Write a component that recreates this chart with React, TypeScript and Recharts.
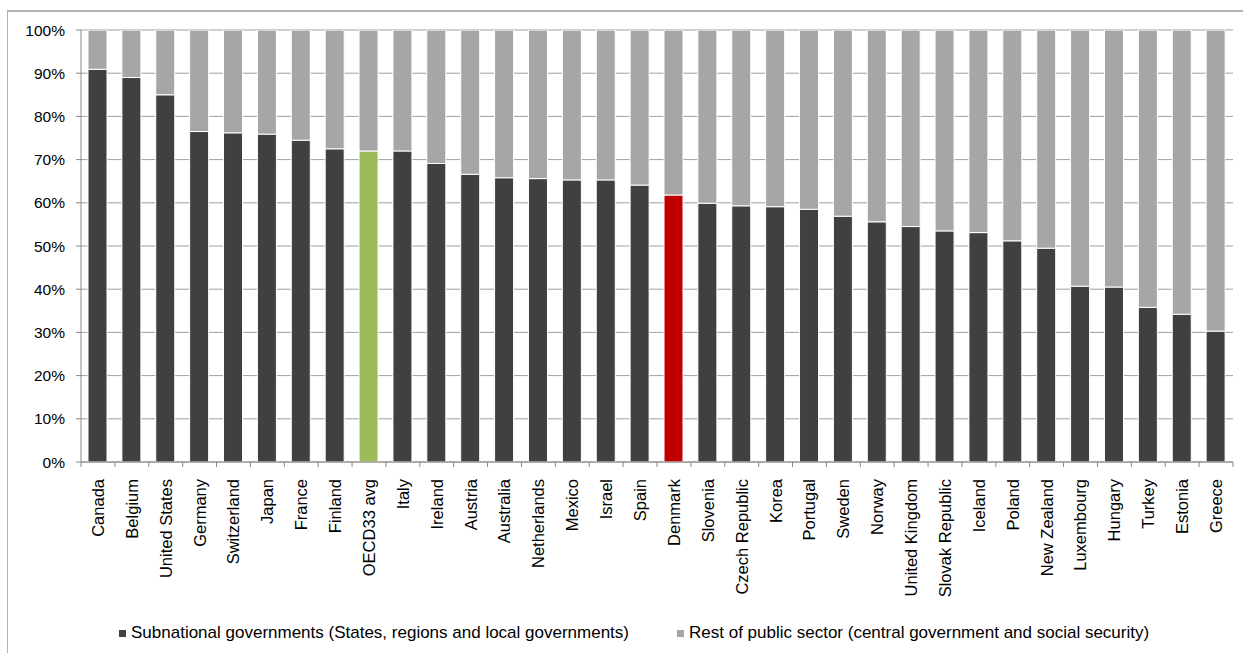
import { Bar, BarChart, CartesianGrid, Cell, Legend, XAxis, YAxis } from "recharts";

const COUNTRIES = [
    "Canada", "Belgium", "United States", "Germany", "Switzerland", "Japan", "France", "Finland",
    "OECD33 avg", "Italy", "Ireland", "Austria", "Australia", "Netherlands", "Mexico", "Israel",
    "Spain", "Denmark", "Slovenia", "Czech Republic", "Korea", "Portugal", "Sweden", "Norway",
    "United Kingdom", "Slovak Republic", "Iceland", "Poland", "New Zealand", "Luxembourg",
    "Hungary", "Turkey", "Estonia", "Greece",
];
// share of public sector (%) held by subnational governments
const SUBNATIONAL = [
    90.9, 89.0, 85.0, 76.5, 76.2, 75.9, 74.5, 72.5,
    72.0, 72.0, 69.1, 66.6, 65.8, 65.6, 65.3, 65.3,
    64.1, 61.8, 59.9, 59.3, 59.1, 58.5, 56.9, 55.6,
    54.5, 53.5, 53.1, 51.2, 49.5, 40.7,
    40.5, 35.8, 34.2, 30.3,
];
const Y_TICKS = [0, 10, 20, 30, 40, 50, 60, 70, 80, 90, 100];
const SERIES_NAMES = [
    "Subnational governments (States, regions and local governments)",
    "Rest of public sector (central government and social security)",
];

const DARK = "#404040";
const LIGHT = "#a6a6a6";
const HIGHLIGHT: Record<string, string> = { "OECD33 avg": "#9bbb59", Denmark: "#c00000" };

const W = 1243;
const H = 653;
const PLOT_LEFT = 81;
const PLOT_RIGHT = 10;
const HALF_BAND = (W - PLOT_LEFT - PLOT_RIGHT) / COUNTRIES.length / 2;
const FONT = "'Liberation Sans', Arial, sans-serif";

const data = COUNTRIES.map((name, i) => ({
    name,
    sub: SUBNATIONAL[i],
    rest: +(100 - SUBNATIONAL[i]).toFixed(1),
}));

function CountryTick(props: any) {
    const { x, y, payload, index } = props;
    const top = y - 12;
    return (
        <g>
            <line x1={x - HALF_BAND} x2={x - HALF_BAND} y1={top - 5} y2={top} stroke="#888" />
            {index === COUNTRIES.length - 1 && (
                <line x1={x + HALF_BAND} x2={x + HALF_BAND} y1={top - 5} y2={top} stroke="#888" />
            )}
            <text
                x={x}
                y={y}
                transform={`rotate(-90, ${x}, ${y})`}
                textAnchor="end"
                dy="0.36em"
                fontSize={16.5}
                fontFamily={FONT}
                fill="#000"
            >
                {payload.value}
            </text>
        </g>
    );
}

function ChartLegend() {
    const items = [
        { label: SERIES_NAMES[0], color: DARK, left: 119 },
        { label: SERIES_NAMES[1], color: LIGHT, left: 677 },
    ];
    return (
        <div style={{ position: "relative", width: W, height: 20 }}>
            {items.map((item) => (
                <div
                    key={item.label}
                    style={{
                        position: "absolute",
                        left: item.left,
                        top: 0,
                        display: "flex",
                        alignItems: "center",
                        height: 20,
                        fontFamily: FONT,
                        fontSize: 17,
                        color: "#000",
                        whiteSpace: "nowrap",
                    }}
                >
                    <span style={{ width: 7, height: 7, background: item.color, marginRight: 5 }} />
                    {item.label}
                </div>
            ))}
        </div>
    );
}

export default function App() {
    return (
        <div style={{ position: "relative", width: W, height: H, overflow: "hidden", background: "#fff" }}>
            <style>{"body{margin:0;overflow:hidden}"}</style>
            <div
                style={{
                    position: "absolute",
                    left: 7,
                    top: 10,
                    width: W,
                    height: H,
                    border: "1px solid #b4b4b4",
                    borderWidth: "2px 0 0 1px",
                }}
            />
            <div style={{ position: "absolute", left: 0, top: 0 }}>
                <BarChart
                    width={W}
                    height={H}
                    data={data}
                    margin={{ top: 30, right: PLOT_RIGHT, left: 0, bottom: 41 }}
                >
                    <CartesianGrid vertical={false} stroke="#a0a0a0" />
                    <XAxis
                        dataKey="name"
                        interval={0}
                        height={150}
                        axisLine={{ stroke: "#888" }}
                        tickLine={false}
                        tickSize={5}
                        tickMargin={12}
                        tick={<CountryTick />}
                    />
                    <YAxis
                        width={PLOT_LEFT}
                        domain={[0, 100]}
                        ticks={Y_TICKS}
                        tickFormatter={(v) => `${v}%`}
                        axisLine={{ stroke: "#888" }}
                        tickLine={{ stroke: "#888" }}
                        tickSize={5}
                        tickMargin={11}
                        tick={{ fontSize: 15.5, fontFamily: FONT, fill: "#000" }}
                        allowDataOverflow
                    />
                    <Legend
                        layout="horizontal"
                        verticalAlign="middle"
                        align="center"
                        wrapperStyle={{ top: 623, left: 0, width: W }}
                        content={() => <ChartLegend />}
                    />
                    <Bar dataKey="sub" name={SERIES_NAMES[0]} stackId="a" barSize={19} fill={DARK} stroke="#fff" strokeWidth={1} isAnimationActive={false}>
                        {data.map((d) => (
                            <Cell key={d.name} fill={HIGHLIGHT[d.name] ?? DARK} />
                        ))}
                    </Bar>
                    <Bar dataKey="rest" name={SERIES_NAMES[1]} stackId="a" barSize={19} fill={LIGHT} stroke="#fff" strokeWidth={1} isAnimationActive={false} />
                </BarChart>
            </div>
        </div>
    );
}
